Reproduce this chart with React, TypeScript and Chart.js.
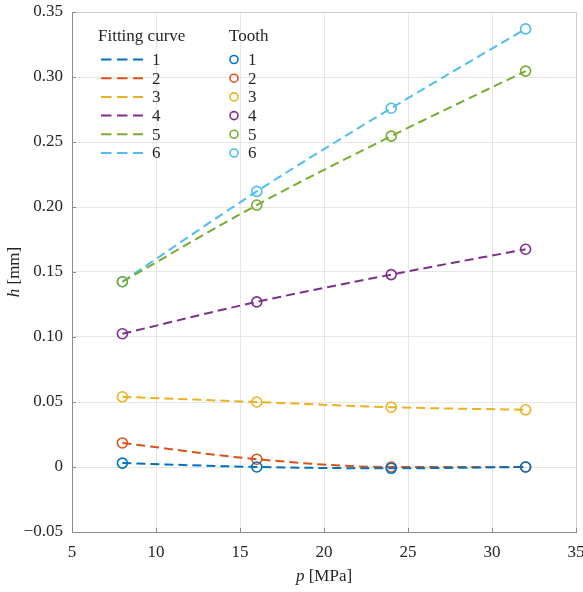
import React, { useEffect, useRef } from "react";
import { Chart, registerables } from "chart.js";

Chart.register(...registerables);

const pressure = [8, 16, 24, 32];
const tooth1 = [0.003, 0.0, -0.001, 0.0];
const tooth2 = [0.0185, 0.006, 0.0, 0.0];
const tooth3 = [0.054, 0.05, 0.046, 0.044];
const tooth4 = [0.1025, 0.127, 0.148, 0.1675];
const tooth5 = [0.1425, 0.2015, 0.2545, 0.3045];
const tooth6 = [0.1425, 0.212, 0.276, 0.337];
const seriesValues = [tooth1, tooth2, tooth3, tooth4, tooth5, tooth6];
const seriesLabels = ["1", "2", "3", "4", "5", "6"];
const seriesColors = ["#0072BD", "#D95319", "#EDB120", "#7E2F8E", "#77AC30", "#4DBEEE"];
const xTickValues = [5, 10, 15, 20, 25, 30, 35];
const yTickValues = [-0.05, 0, 0.05, 0.1, 0.15, 0.2, 0.25, 0.3, 0.35];
const legendTitleCurve = "Fitting curve";
const legendTitleTooth = "Tooth";
const xTitleVar = "p";
const xTitleUnit = " [MPa]";
const yTitleVar = "h";
const yTitleUnit = " [mm]";

const FONT = "'Liberation Serif', 'DejaVu Serif', serif";

function fmtY(v: number): string {
  const r = Math.round(v * 100) / 100;
  if (Math.abs(r) < 1e-9) return "0";
  if (r < 0) return "\u2212" + Math.abs(r).toFixed(2);
  return r.toFixed(2);
}

const overlayPlugin = {
  id: "overlay",
  afterDraw(chart: any) {
    const ctx = chart.ctx;
    const area = chart.chartArea;
    ctx.save();
    // box top/right
    ctx.strokeStyle = "#cfcfcf";
    ctx.lineWidth = 1;
    ctx.beginPath();
    ctx.moveTo(area.left, area.top + 0.5);
    ctx.lineTo(area.right + 0.5, area.top + 0.5);
    ctx.lineTo(area.right + 0.5, area.bottom);
    ctx.stroke();
    // inward ticks
    ctx.strokeStyle = "#8c8c8c";
    const xs = chart.scales.x;
    const ys = chart.scales.y;
    xTickValues.forEach((v) => {
      const px = Math.round(xs.getPixelForValue(v)) + 0.5;
      ctx.beginPath();
      ctx.moveTo(px, area.bottom);
      ctx.lineTo(px, area.bottom - 4);
      ctx.stroke();
    });
    yTickValues.forEach((v) => {
      const py = Math.round(ys.getPixelForValue(v)) + 0.5;
      ctx.beginPath();
      ctx.moveTo(area.left, py);
      ctx.lineTo(area.left + 4, py);
      ctx.stroke();
    });
    // Legend
    ctx.fillStyle = "#262626";
    ctx.textBaseline = "middle";
    ctx.textAlign = "left";
    ctx.font = `17px ${FONT}`;
    ctx.fillText(legendTitleCurve, 98, 37);
    ctx.fillText(legendTitleTooth, 229, 37);
    const rowStart = 59.5;
    const rowStep = 18.7;
    seriesLabels.forEach((lab, i) => {
      const y = rowStart + i * rowStep;
      ctx.strokeStyle = seriesColors[i];
      ctx.lineWidth = 2;
      ctx.setLineDash([10.5, 5.5]);
      ctx.beginPath();
      ctx.moveTo(101, y);
      ctx.lineTo(143, y);
      ctx.stroke();
      ctx.setLineDash([]);
      ctx.lineWidth = 1.6;
      ctx.beginPath();
      ctx.arc(234, y, 4, 0, Math.PI * 2);
      ctx.stroke();
      ctx.fillStyle = "#262626";
      ctx.fillText(lab, 152, y + 1);
      ctx.fillText(lab, 248, y + 1);
    });
    // X title
    const italic = `italic 17px ${FONT}`;
    const normal = `17px ${FONT}`;
    ctx.font = italic;
    const w1 = ctx.measureText(xTitleVar).width;
    ctx.font = normal;
    const w2 = ctx.measureText(xTitleUnit).width;
    const cx = (area.left + area.right) / 2;
    const x0 = cx - (w1 + w2) / 2;
    const ty = 577;
    ctx.font = italic;
    ctx.fillText(xTitleVar, x0, ty);
    ctx.font = normal;
    ctx.fillText(xTitleUnit, x0 + w1, ty);
    // Y title
    ctx.save();
    const cy = (area.top + area.bottom) / 2;
    ctx.translate(15, cy);
    ctx.rotate(-Math.PI / 2);
    ctx.font = italic;
    const h1 = ctx.measureText(yTitleVar).width;
    ctx.font = normal;
    const h2 = ctx.measureText(yTitleUnit).width;
    const y0 = -(h1 + h2) / 2;
    ctx.font = italic;
    ctx.fillText(yTitleVar, y0, 0);
    ctx.font = normal;
    ctx.fillText(yTitleUnit, y0 + h1, 0);
    ctx.restore();
    ctx.restore();
  },
};

export default function App() {
  const ref = useRef<HTMLCanvasElement | null>(null);
  useEffect(() => {
    document.body.style.margin = "0";
    if (!ref.current) return;
    const datasets: any[] = [];
    seriesValues.forEach((vals, i) => {
      datasets.push({
        label: "Tooth " + seriesLabels[i],
        data: pressure.map((x, j) => ({ x, y: vals[j] })),
        showLine: false,
        borderColor: seriesColors[i],
        backgroundColor: "rgba(0,0,0,0)",
        pointRadius: 5,
        pointBorderWidth: 1.6,
        pointStyle: "circle",
        order: 0,
      });
    });
    seriesValues.forEach((vals, i) => {
      datasets.push({
        label: "Fitting curve " + seriesLabels[i],
        data: pressure.map((x, j) => ({ x, y: vals[j] })),
        showLine: true,
        borderColor: seriesColors[i],
        backgroundColor: "rgba(0,0,0,0)",
        borderWidth: 2,
        borderDash: [9, 5],
        pointRadius: 0,
        cubicInterpolationMode: "monotone",
        order: 1,
      });
    });
    const chart = new Chart(ref.current, {
      type: "scatter",
      data: { datasets },
      options: {
        animation: false,
        responsive: true,
        maintainAspectRatio: false,
        layout: { padding: { top: 12, right: 7, left: 0, bottom: 0 } },
        plugins: { legend: { display: false }, tooltip: { enabled: false } },
        scales: {
          x: {
            type: "linear",
            min: 5,
            max: 35,
            afterBuildTicks: (s: any) => {
              s.ticks = xTickValues.map((v) => ({ value: v }));
            },
            afterFit: (s: any) => {
              s.height = 60;
              s.paddingLeft = 0;
              s.paddingRight = 0;
            },
            grid: { color: "#e6e6e6", drawTicks: false, lineWidth: 1 },
            border: { color: "#8c8c8c", width: 1 },
            ticks: {
              color: "#262626",
              padding: 10,
              maxRotation: 0,
              font: { family: FONT, size: 17 },
              callback: (v: any) => String(v),
            },
          },
          y: {
            type: "linear",
            min: -0.05,
            max: 0.35,
            afterBuildTicks: (s: any) => {
              s.ticks = yTickValues.map((v) => ({ value: v }));
            },
            afterFit: (s: any) => {
              s.width = 72;
              s.paddingTop = 0;
              s.paddingBottom = 0;
            },
            grid: { color: "#e6e6e6", drawTicks: false, lineWidth: 1 },
            border: { color: "#8c8c8c", width: 1 },
            ticks: {
              color: "#262626",
              padding: 9,
              font: { family: FONT, size: 17 },
              callback: (v: any) => fmtY(Number(v)),
            },
          },
        },
      },
      plugins: [overlayPlugin],
    });
    return () => chart.destroy();
  }, []);
  return (
    <div style={{ position: "relative", width: 583, height: 592, background: "#fff" }}>
      <canvas ref={ref} />
    </div>
  );
}
